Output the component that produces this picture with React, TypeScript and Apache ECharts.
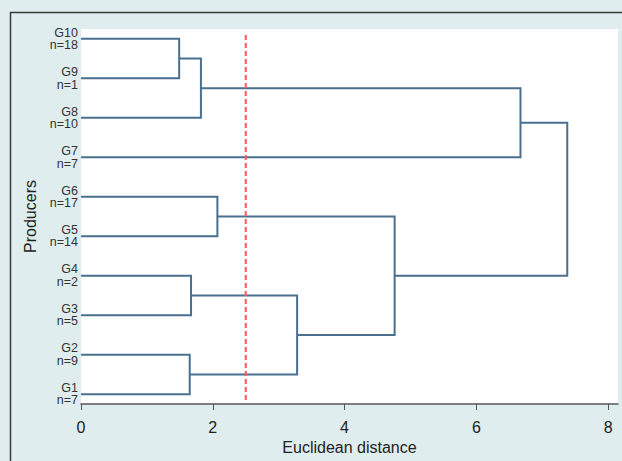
import React, { useEffect, useRef } from "react";
import * as echarts from "echarts";

const leafNames = ["G1", "G2", "G3", "G4", "G5", "G6", "G7", "G8", "G9", "G10"];
const leafCounts = [7, 9, 5, 2, 14, 17, 7, 10, 1, 18];
// merges: [childA, childB, height]; leaves are 0..9, new clusters 10..
const mergeA = [9, 10, 11, 5, 3, 1, 14, 13, 12];
const mergeB = [8, 7, 6, 4, 2, 0, 15, 16, 17];
const mergeHeights = [1.49, 1.82, 6.67, 2.07, 1.67, 1.65, 3.28, 4.76, 7.38];
const cutHeight = 2.5;
const xTicks = [0, 2, 4, 6, 8];

export default function App() {
  const ref = useRef<HTMLDivElement>(null);
  useEffect(() => {
    if (!ref.current) return;
    const chart = echarts.init(ref.current, null, { renderer: "svg" });
    const nodeY: number[] = leafNames.map((_, i) => i + 1);
    const nodeH: number[] = leafNames.map(() => 0);
    const links: any[] = [];
    mergeHeights.forEach((h, k) => {
      const a = mergeA[k];
      const b = mergeB[k];
      links.push({
        coords: [
          [nodeH[a], nodeY[a]],
          [h, nodeY[a]],
          [h, nodeY[b]],
          [nodeH[b], nodeY[b]],
        ],
      });
      nodeY.push((nodeY[a] + nodeY[b]) / 2);
      nodeH.push(h);
    });
    const font = "'Liberation Sans', Arial, sans-serif";
    chart.setOption({
      animation: false,
      backgroundColor: "#dfedee",
      textStyle: { fontFamily: font },
      graphic: [
        { type: "line", shape: { x1: 10, y1: 12.5, x2: 622, y2: 12.5 }, style: { stroke: "#3a3a3a", lineWidth: 1.5 } },
        { type: "line", shape: { x1: 10.5, y1: 12, x2: 10.5, y2: 461 }, style: { stroke: "#3a3a3a", lineWidth: 1.5 } },
      ],
      grid: {
        left: 81,
        top: 29,
        right: 4,
        bottom: 57,
        show: true,
        backgroundColor: "#ffffff",
        borderWidth: 0,
      },
      xAxis: {
        type: "value",
        min: 0,
        max: 8.15,
        interval: 2,
        splitLine: { show: false },
        axisLine: { show: true, lineStyle: { color: "#555", width: 1.5 } },
        axisTick: { show: true, length: 6, lineStyle: { color: "#555" }, customValues: xTicks },
        axisLabel: { color: "#222", fontSize: 16, margin: 15, fontFamily: font, customValues: xTicks },
        name: "Euclidean distance",
        nameLocation: "middle",
        nameGap: 34,
        nameTextStyle: { color: "#222", fontSize: 16, fontFamily: font },
      },
      yAxis: {
        type: "value",
        min: 0.75,
        max: 10.25,
        splitLine: { show: false },
        axisLine: { show: false },
        axisTick: { show: false },
        axisLabel: {
          customValues: leafNames.map((_, i) => i + 1),
          formatter: (v: number) => {
            const i = Math.round(v) - 1;
            return leafNames[i] + "\nn=" + leafCounts[i];
          },
          color: "#333",
          fontSize: 12.5,
          lineHeight: 12.5,
          margin: 3,
          fontFamily: font,
        },
        name: "Producers",
        nameLocation: "middle",
        nameGap: 33,
        nameTextStyle: { color: "#222", fontSize: 16, fontFamily: font },
      },
      series: [
        {
          type: "lines",
          coordinateSystem: "cartesian2d",
          polyline: true,
          silent: true,
          lineStyle: { color: "#4a6f8f", width: 2, opacity: 1 },
          data: links,
        },
        {
          type: "line",
          silent: true,
          symbol: "none",
          data: [
            [cutHeight, 0.85],
            [cutHeight, 10.15],
          ],
          lineStyle: { color: "#ff5a5a", width: 2, type: [5, 3] },
        },
      ],
    });
    return () => chart.dispose();
  }, []);
  return (
    <div
      ref={ref}
      style={{ position: "fixed", left: 0, top: 0, width: 622, height: 461 }}
    />
  );
}
